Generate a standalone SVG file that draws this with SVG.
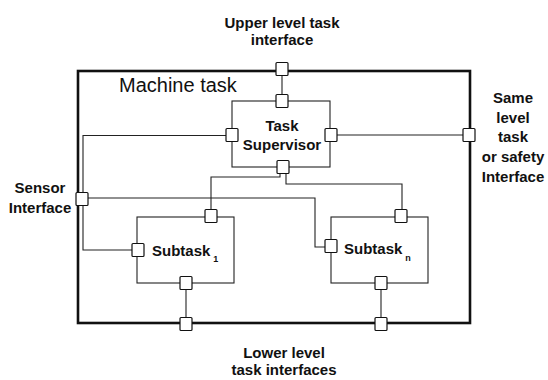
<svg xmlns="http://www.w3.org/2000/svg" width="548" height="380" viewBox="0 0 548 380">
  <style>
    .lbl { font-family: "Liberation Sans", Arial, Helvetica, sans-serif; font-weight: bold; font-size: 15px; fill: #111; }
    .title { font-family: "Liberation Sans", Arial, Helvetica, sans-serif; font-size: 20px; fill: #111; }
    .frame { fill: none; stroke: #111; stroke-width: 2.6; }
    .box { fill: none; stroke: #222; stroke-width: 1.1; }
    .wire { fill: none; stroke: #222; stroke-width: 1.1; }
    .port { fill: #fff; stroke: #111; stroke-width: 1.2; }
  </style>
  <defs>
    <rect id="port" x="-6" y="-6.5" width="12" height="13" rx="1"/>
  </defs>

  <rect width="548" height="380" fill="#fff"/>

  <!-- external interface labels -->
  <g id="labels">
    <text class="lbl" x="282" y="28" text-anchor="middle">Upper level task</text>
    <text class="lbl" x="282" y="45" text-anchor="middle">interface</text>
    <text class="lbl" x="284" y="358" text-anchor="middle">Lower level</text>
    <text class="lbl" x="284" y="375" text-anchor="middle">task interfaces</text>
    <text class="lbl" x="40" y="193" text-anchor="middle">Sensor</text>
    <text class="lbl" x="40" y="213" text-anchor="middle">Interface</text>
    <text class="lbl" x="513" y="103" text-anchor="middle">Same</text>
    <text class="lbl" x="513" y="123" text-anchor="middle">level</text>
    <text class="lbl" x="513" y="142" text-anchor="middle">task</text>
    <text class="lbl" x="513" y="162" text-anchor="middle">or safety</text>
    <text class="lbl" x="513" y="182" text-anchor="middle">Interface</text>
  </g>

  <!-- connectors -->
  <g id="connectors">
    <!-- upper interface to supervisor -->
    <path class="wire" d="M282 69 V101"/>
    <!-- supervisor left port down the frame to subtask 1 -->
    <path class="wire" d="M226 135.5 H83 V250 H132"/>
    <!-- supervisor right port to same-level interface -->
    <path class="wire" d="M337 135 H463"/>
    <!-- supervisor bottom port to subtask 1 -->
    <path class="wire" d="M280 173 V177 H211 V210"/>
    <!-- supervisor bottom port to subtask n -->
    <path class="wire" d="M286 173 V184 H402 V210"/>
    <!-- sensor interface to subtask n -->
    <path class="wire" d="M88 198 H315 V247 H325"/>
    <!-- subtasks to lower level interfaces -->
    <path class="wire" d="M186 283 V324"/>
    <path class="wire" d="M381 283 V324"/>
  </g>

  <!-- machine task frame -->
  <g id="machine-task">
    <rect class="frame" x="78" y="71" width="392" height="252"/>
    <text class="title" x="119" y="92">Machine task</text>
    <use href="#port" class="port" x="282" y="69"/>
    <use href="#port" class="port" x="469" y="135"/>
    <use href="#port" class="port" x="82" y="199"/>
    <use href="#port" class="port" x="186" y="324"/>
    <use href="#port" class="port" x="381" y="324"/>
  </g>

  <!-- task supervisor -->
  <g id="task-supervisor">
    <rect class="box" x="232" y="101" width="98" height="66"/>
    <text class="lbl" x="282" y="131" text-anchor="middle">Task</text>
    <text class="lbl" x="282" y="150" text-anchor="middle">Supervisor</text>
    <use href="#port" class="port" x="282" y="101"/>
    <use href="#port" class="port" x="232" y="135"/>
    <use href="#port" class="port" x="331" y="135"/>
    <use href="#port" class="port" x="283" y="167"/>
  </g>

  <!-- subtask 1 -->
  <g id="subtask-1">
    <rect class="box" x="137" y="217" width="97" height="66"/>
    <text class="lbl" x="152" y="256">Subtask<tspan dx="3" dy="6" font-size="9">1</tspan></text>
    <use href="#port" class="port" x="211" y="216"/>
    <use href="#port" class="port" x="138" y="250"/>
    <use href="#port" class="port" x="186" y="283"/>
  </g>

  <!-- subtask n -->
  <g id="subtask-n">
    <rect class="box" x="331" y="217" width="97" height="66"/>
    <text class="lbl" x="344" y="254">Subtask<tspan dx="3" dy="7" font-size="9">n</tspan></text>
    <use href="#port" class="port" x="401" y="216"/>
    <use href="#port" class="port" x="331" y="246"/>
    <use href="#port" class="port" x="381" y="283"/>
  </g>
</svg>
